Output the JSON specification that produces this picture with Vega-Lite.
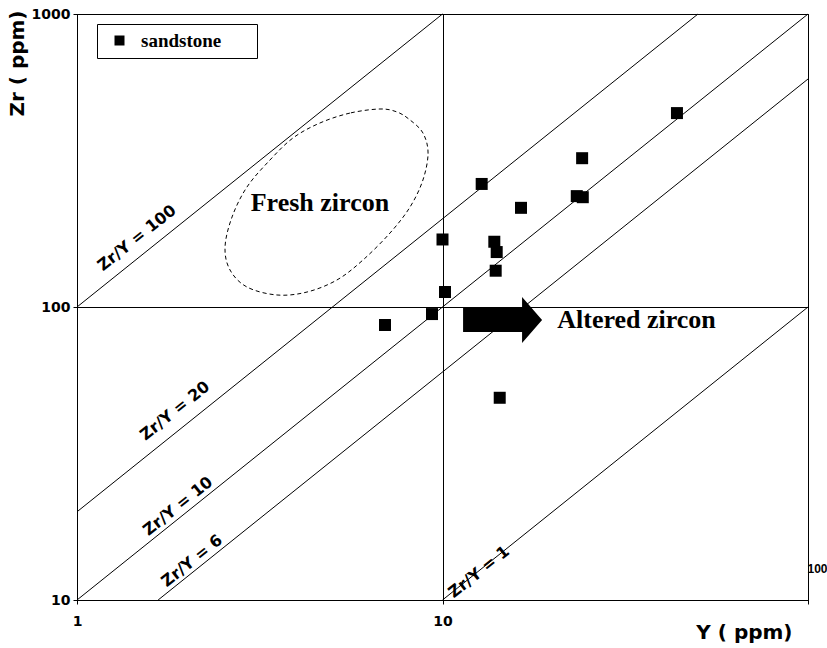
{
  "$schema": "https://vega.github.io/schema/vega-lite/v6.json",
  "autosize": {"type": "none"},
  "padding": {"left": 77, "top": 14, "right": 19, "bottom": 48},
  "width": 731,
  "height": 586,
  "background": "white",
  "config": {"view": {"stroke": "black", "strokeWidth": 1}},
  "datasets": {
    "lines": [
      {"ratio": "100", "Y": 1, "Zr": 100}, {"ratio": "100", "Y": 10, "Zr": 1000},
      {"ratio": "20", "Y": 1, "Zr": 20}, {"ratio": "20", "Y": 50, "Zr": 1000},
      {"ratio": "10", "Y": 1, "Zr": 10}, {"ratio": "10", "Y": 100, "Zr": 1000},
      {"ratio": "6", "Y": 1.667, "Zr": 10}, {"ratio": "6", "Y": 100, "Zr": 600},
      {"ratio": "1", "Y": 10, "Zr": 10}, {"ratio": "1", "Y": 100, "Zr": 100}
    ],
    "ellipse": [
      {"i": 1, "Y": 6.745, "Zr": 474}, {"i": 2, "Y": 5.58, "Zr": 459}, {"i": 3, "Y": 4.62, "Zr": 424.6},
      {"i": 4, "Y": 3.9, "Zr": 377.5}, {"i": 5, "Y": 3.373, "Zr": 317.5}, {"i": 6, "Y": 2.918, "Zr": 256.8},
      {"i": 7, "Y": 2.656, "Zr": 202.9}, {"i": 8, "Y": 2.541, "Zr": 160.2}, {"i": 9, "Y": 2.622, "Zr": 133.8},
      {"i": 10, "Y": 2.918, "Zr": 117.0}, {"i": 11, "Y": 3.526, "Zr": 109.9}, {"i": 12, "Y": 4.26, "Zr": 112.5},
      {"i": 13, "Y": 5.145, "Zr": 123.7}, {"i": 14, "Y": 6.06, "Zr": 144.7}, {"i": 15, "Y": 7.185, "Zr": 178.9},
      {"i": 16, "Y": 8.15, "Zr": 219.4}, {"i": 17, "Y": 8.84, "Zr": 271.3}, {"i": 18, "Y": 9.13, "Zr": 335.5},
      {"i": 19, "Y": 8.84, "Zr": 392.6}, {"i": 20, "Y": 8.15, "Zr": 434.8}, {"i": 21, "Y": 7.51, "Zr": 463}
    ],
    "samples": [
      {"type": "sandstone", "Y": 6.96, "Zr": 86.8},
      {"type": "sandstone", "Y": 9.36, "Zr": 94.6},
      {"type": "sandstone", "Y": 10.16, "Zr": 112.5},
      {"type": "sandstone", "Y": 10.0, "Zr": 170},
      {"type": "sandstone", "Y": 12.8, "Zr": 263},
      {"type": "sandstone", "Y": 13.86, "Zr": 167},
      {"type": "sandstone", "Y": 14.07, "Zr": 154},
      {"type": "sandstone", "Y": 13.98, "Zr": 133},
      {"type": "sandstone", "Y": 14.34, "Zr": 49},
      {"type": "sandstone", "Y": 16.4, "Zr": 218},
      {"type": "sandstone", "Y": 24.1, "Zr": 322},
      {"type": "sandstone", "Y": 23.3, "Zr": 239},
      {"type": "sandstone", "Y": 24.2, "Zr": 237},
      {"type": "sandstone", "Y": 43.8, "Zr": 459}
    ],
    "ratioLabels": [
      {"label": "Zr/Y = 100", "Y": 1.459, "Zr": 172},
      {"label": "Zr/Y = 20", "Y": 1.854, "Zr": 44.2},
      {"label": "Zr/Y = 10", "Y": 1.889, "Zr": 20.9},
      {"label": "Zr/Y = 6", "Y": 2.064, "Zr": 13.6},
      {"label": "Zr/Y = 1", "Y": 12.59, "Zr": 12.46}
    ],
    "zirconLabels": [
      {"label": "Fresh zircon", "Y": 4.62, "Zr": 226.5},
      {"label": "Altered zircon", "Y": 33.95, "Zr": 90.3}
    ],
    "arrow": [{"Y": 14.6, "Zr": 90.3}]
  },
  "encoding": {
    "x": {
      "field": "Y", "type": "quantitative",
      "scale": {"type": "log", "domain": [1, 100], "nice": false},
      "axis": {
        "values": [1, 10, 100], "format": "d",
        "grid": true, "gridColor": "black", "gridOpacity": 1, "gridWidth": 1,
        "domainColor": "black", "tickColor": "black", "tickSize": 4,
        "labelFont": {"condition": {"test": "datum.value == 100", "value": "Liberation Sans"}, "value": "DejaVu Sans"},
        "labelFontWeight": "bold",
        "labelFontSize": {"condition": {"test": "datum.value == 100", "value": 12}, "value": 14},
        "labelColor": "black",
        "labelPadding": 10, "labelFlush": false, "labelOverlap": false,
        "title": "Y ( ppm)", "titleFont": "DejaVu Sans", "titleFontSize": 20, "titleFontWeight": "bold", "titleColor": "black",
        "titleAlign": "right", "titleX": 715, "titleY": 22, "titleBaseline": "top",
        "encoding": {
          "labels": {
            "dx": {"condition": {"test": "datum.value == 100", "value": 9}, "value": 0},
            "dy": {"condition": {"test": "datum.value == 100", "value": -51}, "value": 0}
          }
        }
      }
    },
    "y": {
      "field": "Zr", "type": "quantitative",
      "scale": {"type": "log", "domain": [10, 1000], "nice": false},
      "axis": {
        "values": [10, 100, 1000], "format": "d",
        "grid": true, "gridColor": "black", "gridOpacity": 1, "gridWidth": 1,
        "domainColor": "black", "tickColor": "black", "tickSize": 4,
        "labelFont": "DejaVu Sans", "labelFontWeight": "bold", "labelFontSize": 14, "labelColor": "black",
        "labelPadding": 3, "labelFlush": false, "labelOverlap": false,
        "title": "Zr ( ppm)", "titleFont": "DejaVu Sans", "titleFontSize": 20, "titleFontWeight": "bold", "titleColor": "black",
        "titleAngle": 270, "titleAlign": "right", "titleBaseline": "middle", "titleX": -60, "titleY": -4
      }
    }
  },
  "layer": [
    {
      "data": {"name": "lines"},
      "mark": {"type": "line", "color": "black", "strokeWidth": 1},
      "encoding": {"detail": {"field": "ratio"}}
    },
    {
      "data": {"name": "ellipse"},
      "mark": {"type": "line", "color": "black", "strokeWidth": 1, "strokeDash": [4, 3], "interpolate": "cardinal-closed"},
      "encoding": {"order": {"field": "i", "type": "quantitative"}}
    },
    {
      "data": {"name": "arrow"},
      "mark": {"type": "point", "filled": true, "color": "black", "opacity": 1, "size": 2116,
        "shape": "M-1.717,-0.52 L0.848,-0.52 L0.848,-1 L1.717,0 L0.848,1 L0.848,0.52 L-1.717,0.52 Z"}
    },
    {
      "data": {"name": "samples"},
      "mark": {"type": "square", "size": 144, "opacity": 1},
      "encoding": {
        "color": {
          "field": "type", "type": "nominal",
          "scale": {"range": ["black"]},
          "legend": {
            "title": ".", "titleOrient": "right", "titleOpacity": 0, "titlePadding": 24,
            "titleFont": "Liberation Serif", "titleFontSize": 19,
            "orient": "none", "legendX": 20, "legendY": 10,
            "strokeColor": "black", "fillColor": "white", "padding": 7,
            "symbolType": "square", "symbolSize": 100, "symbolOffset": 6, "symbolStrokeWidth": 0,
            "labelFont": "Liberation Serif", "labelFontWeight": "bold", "labelFontSize": 19, "labelColor": "black",
            "labelOffset": 12
          }
        }
      }
    },
    {
      "data": {"name": "ratioLabels"},
      "mark": {"type": "text", "font": "DejaVu Sans", "fontWeight": "bold", "fontSize": 16, "angle": 321.3, "align": "center", "baseline": "middle", "color": "black"},
      "encoding": {"text": {"field": "label"}}
    },
    {
      "data": {"name": "zirconLabels"},
      "mark": {"type": "text", "font": "Liberation Serif", "fontWeight": "bold", "fontSize": 26, "align": "center", "baseline": "middle", "color": "black"},
      "encoding": {"text": {"field": "label"}}
    }
  ]
}
